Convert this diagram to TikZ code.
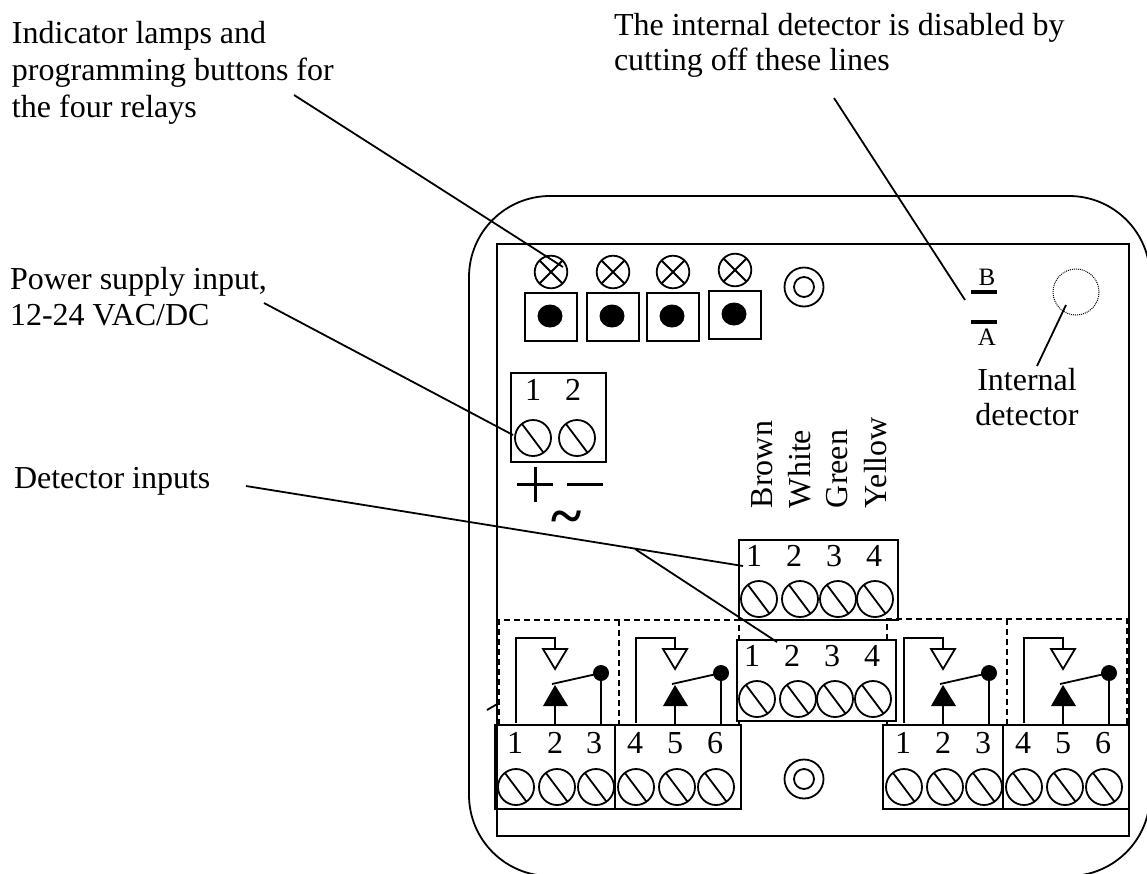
\documentclass[tikz,border=0pt]{standalone}
\usepackage{fontspec}
\setmainfont{Liberation Serif}
\tikzset{
  every picture/.style={x=1pt,y=-1pt,line width=1.8pt,line join=miter},
  lbl/.style={inner sep=0pt,outer sep=0pt,anchor=base west,font=\fontsize{32}{35}\selectfont},
  dig/.style={inner sep=0pt,outer sep=0pt,anchor=base,font=\fontsize{32}{35}\selectfont},
  small/.style={inner sep=0pt,outer sep=0pt,anchor=base,font=\fontsize{25}{27}\selectfont},
  vert/.style={inner sep=0pt,outer sep=0pt,anchor=base west,rotate=90,font=\fontsize{32}{35}\selectfont},
  dash box/.style={line width=1.6pt,dash pattern=on 6pt off 4pt},
}
\newcommand{\Screw}[2]{\draw (#1,#2) circle[radius=18] (#1-11,#2-14) -- (#1+10,#2+14);}
\newcommand{\Lamp}[2]{\draw (#1,#2) circle[radius=16.3] (#1-11.5,#2-11.5) -- (#1+11.5,#2+11.5) (#1-11.5,#2+11.5) -- (#1+11.5,#2-11.5);}
\newcommand{\Btn}[2]{\draw (#1,#2) rectangle ++(52,48); \fill (#1+25,#2+23) ellipse[x radius=12.5,y radius=11.5];}
\newcommand{\Relay}[1]{%
  \begin{scope}[xshift=#1pt]
    \draw (516,723) -- (516,638) -- (555,638) -- (555,649);
    \draw (543,649) -- (567,649) -- (555,669) -- cycle;
    \fill (555,685) -- (568,706) -- (543,706) -- cycle;
    \draw (555,706) -- (555,725);
    \draw (552,684) -- (601,673);
    \fill (601,673) circle[radius=8];
    \draw (601,673) -- (601,725);
  \end{scope}}
\begin{document}
\begin{tikzpicture}
\useasboundingbox (0,0) rectangle (1147,873);
\clip (0,0) rectangle (1147,873);
% housing
\draw[rounded corners=81pt] (469,196) rectangle (1150,876);
\draw (497,244) rectangle (1129,836);
% lamps and buttons
\Lamp{551}{272}\Lamp{613}{272}\Lamp{673}{272}\Lamp{735}{270}
\Btn{525}{293}\Btn{587}{293}\Btn{647}{293}\Btn{709}{291}
% stand-offs
\draw (804,287) circle[radius=19.5] (804,287) circle[radius=10];
\draw (804,779) circle[radius=19.5] (804,779) circle[radius=10];
% dashed relay frames
\draw[dash box] (499,725) -- (499,620) -- (739,620) -- (739,640);
\draw[dash box] (619,620) -- (619,725);
\draw[dash box] (499,725) -- (739,725);
\draw[dash box] (887,640) -- (887,619) -- (1127,619) -- (1127,725) -- (887,725);
\draw[dash box] (1007,619) -- (1007,725);
\draw (739,721) -- (739,725) (887,721) -- (887,725);
% relays
\Relay{0}\Relay{120}\Relay{388}\Relay{508}
% power terminal
\draw (511,373) rectangle (606,462);
\node[dig] (p1) at (533,400) {1};
\node[dig] (p2) at (573,400) {2};
\Screw{533}{438}\Screw{577}{438}
\draw[line width=3pt] (517,484) -- (553,484) (535,467) -- (535,502) (567,484) -- (603,484);
\node[inner sep=0pt,font=\fontsize{58}{58}\bfseries\selectfont] (tilde) at (567,523) {\textasciitilde};
% detector terminals
\draw (739,540) rectangle (898,620);
\foreach \x/\t [count=\i] in {754/1,794/2,834/3,874/4} \node[dig] (da\i) at (\x,566) {\t};
\Screw{759}{599}\Screw{800}{599}\Screw{838}{599}\Screw{875}{599}
\draw[fill=white] (737,640) rectangle (896,721);
\foreach \x/\t [count=\i] in {752/1,792/2,832/3,872/4} \node[dig] (db\i) at (\x,666) {\t};
\Screw{757}{699}\Screw{798}{699}\Screw{835}{699}\Screw{873}{699}
% relay terminals
\draw (495,725) rectangle (615,809) (615,725) rectangle (741,809);
\draw (883,725) rectangle (1003,809) (1003,725) rectangle (1129,809);
\foreach \x/\t [count=\i] in {515/1,555/2,594/3,635/4,675/5,715/6} \node[dig] (ra\i) at (\x,753) {\t};
\foreach \x/\t [count=\i] in {903/1,943/2,983/3,1023/4,1063/5,1103/6} \node[dig] (rb\i) at (\x,753) {\t};
\Screw{516}{787}\Screw{557}{787}\Screw{596}{787}\Screw{636}{787}\Screw{677}{787}\Screw{716}{787}
\Screw{904}{787}\Screw{945}{787}\Screw{984}{787}\Screw{1024}{787}\Screw{1065}{787}\Screw{1104}{787}
% wire names
\node[vert] (brown) at (772,508) {Brown};
\node[vert] (white) at (810,508) {White};
\node[vert] (green) at (847,508) {Green};
\node[vert] (yellow) at (886,508) {Yellow};
% internal detector
\draw[line width=4.5pt] (971,292) -- (997,292) (971,322) -- (997,322);
\node[small] (B) at (987,285) {B};
\node[small] (A) at (987,345) {A};
\draw[line width=1pt,densely dotted] (1076,292) circle[radius=23];
\node[dig] (intdet) at (1027,390) {Internal};
\node[dig] (intdet2) at (1027,425) {detector};
% labels
\node[lbl] (t1a) at (12,43) {Indicator lamps and};
\node[lbl] (t1b) at (12,80) {programming buttons for};
\node[lbl] (t1c) at (12,117) {the four relays};
\node[lbl] (t2a) at (614,35) {The internal detector is disabled by};
\node[lbl] (t2b) at (614,70) {cutting off these lines};
\node[lbl] (t3a) at (10,289) {Power supply input,};
\node[lbl] (t3b) at (10,325) {12-24 VAC/DC};
\node[lbl] (t4) at (14,488) {Detector inputs};
% leader ends
\coordinate (l1s) at (294,95);   \coordinate (l1e) at (563,267);
\coordinate (l2s) at (834,98);   \coordinate (l2e) at (965,300);
\coordinate (l3s) at (264,303);  \coordinate (l3e) at (513,435);
\coordinate (l4s) at (246,486);  \coordinate (l4e) at (743,566);
\coordinate (l4b) at (635,549);  \coordinate (l4f) at (777,642);
\coordinate (l5s) at (1066,305); \coordinate (l5e) at (1037,366);
\coordinate (l6s) at (487,710);  \coordinate (l6e) at (499,703);
\draw (l1s) -- (l1e);
\draw (l2s) -- (l2e);
\draw (l3s) -- (l3e);
\draw (l4s) -- (l4e);
\draw (l4b) -- (l4f);
\draw (l5s) -- (l5e);
\draw (l6s) -- (l6e);
\end{tikzpicture}
\end{document}
